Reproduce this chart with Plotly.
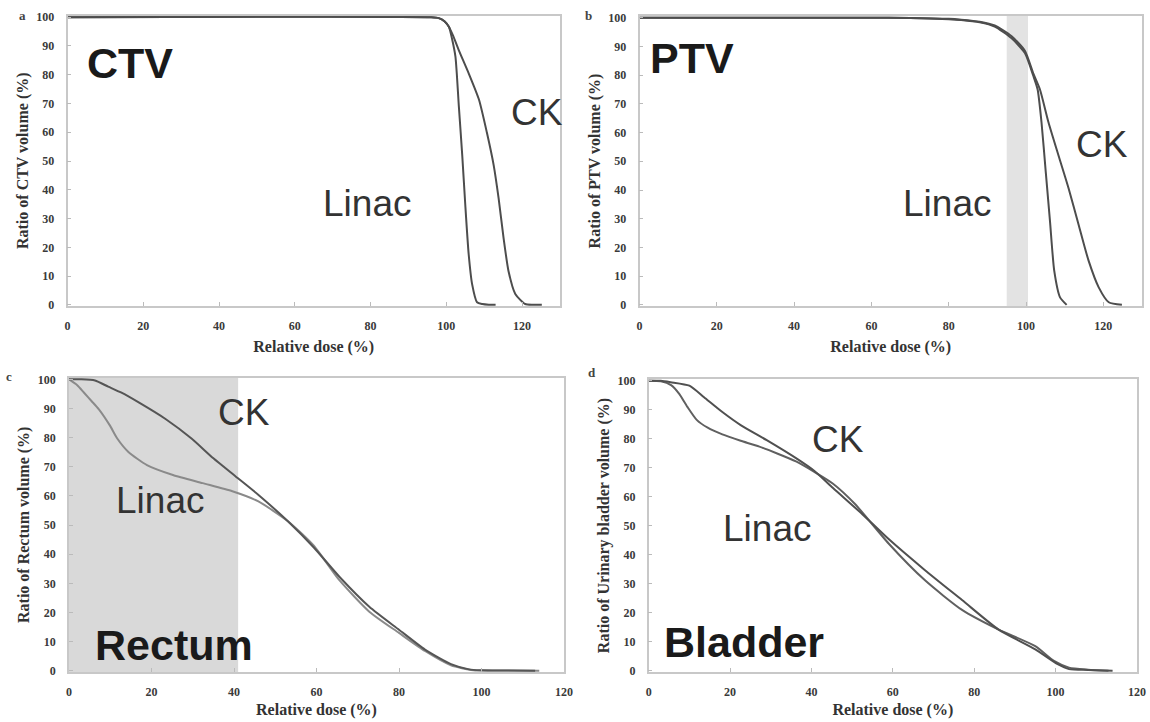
import plotly.graph_objects as go

# ---------------- data ----------------
ctv_linac_dose = [0, 96, 98, 99.5, 100.7, 101.5, 102.4, 103.3, 104.2, 105.0, 105.9, 106.8, 108.1, 109.5, 111.2, 113]
ctv_linac_vol = [100, 100, 99.7, 98.6, 96.6, 92.5, 86.3, 69.0, 51.9, 34.7, 17.5, 7.2, 0.9, 0.3, 0.05, 0]
ctv_ck_dose = [0, 96, 98, 99.5, 100.7, 101.8, 103.3, 105.9, 108.6, 110.7, 112.5, 113.8, 115.1, 116.4, 118.2, 120.8, 123, 125.2]
ctv_ck_vol = [100, 100, 99.7, 98.6, 96.6, 93.5, 88.5, 80.5, 71.4, 59.9, 48.5, 37.0, 23.3, 11.8, 3.8, 0.3, 0.05, 0]

ptv_linac_dose = [0, 60, 70, 80, 83.2, 88, 91.9, 96.2, 99.7, 101.9, 103.0, 104.0, 105.1, 106.2, 107.3, 108.8, 110.5]
ptv_linac_vol = [100, 100, 99.9, 99.5, 99.2, 98.4, 96.9, 92.9, 87.7, 79.7, 75.0, 63.6, 46.3, 29.1, 11.8, 2.6, 0]
ptv_ck_dose = [0, 60, 70, 80, 83.2, 88, 91.9, 96.2, 99.7, 101.9, 103.6, 105.8, 108.4, 111.0, 113.6, 116.2, 118.8, 121.4, 124.8]
ptv_ck_vol = [100, 100, 99.9, 99.6, 99.3, 98.6, 97.3, 93.6, 88.5, 80.5, 75.0, 63.6, 52.0, 40.6, 27.9, 15.3, 6.1, 0.9, 0]

rect_ck_dose = [0, 3, 6.3, 9.5, 12.6, 17, 23.4, 29.7, 35, 40.4, 45.8, 53, 59.3, 65.6, 72.8, 80, 86.3, 92.6, 97, 100, 105, 113]
rect_ck_vol = [100, 100, 99.6, 97.5, 95.5, 92, 86.4, 79.7, 72.9, 66.7, 60.5, 51.4, 42.4, 32.2, 22, 14.1, 7.3, 2.3, 0.5, 0.2, 0.1, 0]
rect_linac_dose = [0, 2, 3.6, 5.5, 7.2, 9.9, 11.7, 14.4, 18.9, 25.2, 32.4, 39.6, 45.8, 53, 59.3, 65.6, 72.8, 80, 86.3, 92.6, 98, 105, 114]
rect_linac_vol = [100, 98, 95.5, 92.5, 89.8, 84.2, 79.7, 75.1, 70.6, 67.2, 64.4, 61.6, 58.2, 51.4, 43, 31, 20.3, 13, 6.8, 1.9, 0.2, 0.1, 0]

blad_ck_dose = [0, 3, 5.4, 10, 13.6, 18.1, 22.6, 29, 36.2, 40.8, 45.3, 52.5, 58.9, 67.9, 77, 86, 95, 100.5, 103.3, 108, 114]
blad_ck_vol = [100, 100, 99.5, 98.3, 94.3, 89.2, 84.7, 79.5, 73.3, 68.8, 63, 54, 45.5, 34.7, 24.4, 14.2, 7.4, 2.3, 0.6, 0.3, 0]
blad_linac_dose = [0, 3, 5.5, 7.5, 9.5, 11.8, 14.5, 18.1, 22.6, 27.2, 36.2, 40.8, 45.3, 50.7, 58.9, 67.9, 77, 86, 95, 99.6, 103.3, 108, 113]
blad_linac_vol = [100, 99.8, 98.5, 95.5, 91, 86.5, 83.8, 81.5, 79.3, 77.3, 72.2, 68.5, 64.5, 57.5, 44, 31.2, 21, 14.2, 8.5, 3.4, 1.1, 0.4, 0]

x_ticks = [0, 20, 40, 60, 80, 100, 120]
y_ticks = [0, 10, 20, 30, 40, 50, 60, 70, 80, 90, 100]

ptv_band = (95, 100.5)
rectum_band = (0, 41)

x_title = "Relative dose (%)"
y_titles = ["Ratio of CTV volume (%)", "Ratio of PTV volume (%)",
            "Ratio of Rectum volume (%)", "Ratio of Urinary bladder volume (%)"]
organ_labels = ["CTV", "PTV", "Rectum", "Bladder"]
panel_letters = ["a", "b", "c", "d"]

# ---------------- figure ----------------
W, H = 1150, 722
fig = go.Figure()

def px_x(p):
    return p / W

def px_y(p):
    return 1 - p / H

series = [
    (ctv_linac_dose, ctv_linac_vol, ctv_ck_dose, ctv_ck_vol, "#4d4d4d", "#4d4d4d"),
    (ptv_linac_dose, ptv_linac_vol, ptv_ck_dose, ptv_ck_vol, "#4d4d4d", "#4d4d4d"),
    (rect_linac_dose, rect_linac_vol, rect_ck_dose, rect_ck_vol, "#8a8a8a", "#555555"),
    (blad_linac_dose, blad_linac_vol, blad_ck_dose, blad_ck_vol, "#606060", "#505050"),
]

for i, (ld, lv, cd, cv, lc, cc) in enumerate(series):
    xa = "x" if i == 0 else f"x{i+1}"
    ya = "y" if i == 0 else f"y{i+1}"
    fig.add_trace(go.Scatter(x=ld, y=lv, mode="lines", name="Linac", xaxis=xa, yaxis=ya,
                             line=dict(color=lc, width=2, shape="spline", smoothing=0.6),
                             showlegend=False))
    fig.add_trace(go.Scatter(x=cd, y=cv, mode="lines", name="CK", xaxis=xa, yaxis=ya,
                             line=dict(color=cc, width=2, shape="spline", smoothing=0.6),
                             showlegend=False))

# panel pixel boxes: (left, right, top, bottom), x max, x-title standoff
boxes = [
    (67.5, 560, 15.5, 306, 130, 9),
    (639.5, 1142, 16, 306, 130, 9),
    (69, 564, 377.6, 672, 120, 6),
    (648.7, 1137, 379, 672, 120, 6),
]

tick_font = dict(family="Liberation Serif", size=12, color="#3a3a3a", weight="bold")
title_font = dict(family="Liberation Serif", size=16, color="#333", weight="bold")

layout = dict(
    width=W, height=H,
    margin=dict(l=0, r=0, t=0, b=0, autoexpand=False),
    paper_bgcolor="white", plot_bgcolor="white",
    font=dict(family="Liberation Serif"),
)

for i, (l, r, t, b, xmax, xs) in enumerate(boxes):
    xk = "xaxis" if i == 0 else f"xaxis{i+1}"
    yk = "yaxis" if i == 0 else f"yaxis{i+1}"
    anchor_x = "y" if i == 0 else f"y{i+1}"
    anchor_y = "x" if i == 0 else f"x{i+1}"
    layout[xk] = dict(
        domain=[px_x(l), px_x(r)], range=[0, xmax], anchor=anchor_x, automargin=False,
        tickvals=x_ticks, ticks="inside", ticklen=4, tickcolor="#bbbbbb",
        showline=True, mirror=True, linecolor="#c8c8c8", linewidth=1.5,
        showgrid=False, zeroline=False, tickfont=tick_font, ticklabelstandoff=8,
        title=dict(text=x_title, font=title_font, standoff=xs),
    )
    layout[yk] = dict(
        domain=[px_y(b), px_y(t)], range=[-0.4, 100.6], anchor=anchor_y, automargin=False,
        tickvals=y_ticks, ticks="inside", ticklen=4, tickcolor="#bbbbbb",
        showline=True, mirror=True, linecolor="#c8c8c8", linewidth=1.5,
        showgrid=False, zeroline=False, tickfont=tick_font, ticklabelstandoff=9,
        title=dict(text=y_titles[i], font=title_font, standoff=4),
    )

fig.update_layout(**layout)

# shaded bands
fig.add_shape(type="rect", xref="x2", yref="y2 domain", x0=ptv_band[0], x1=ptv_band[1],
              y0=0, y1=1, fillcolor="#e3e3e3", line=dict(width=0), layer="below")
fig.add_shape(type="rect", xref="x3", yref="y3 domain", x0=rectum_band[0], x1=rectum_band[1],
              y0=0, y1=1, fillcolor="#d9d9d9", line=dict(width=0), layer="below")

# text labels (pixel positions)
big_pos = [(130, 63), (692, 58), (174, 645), (744, 642)]
linac_pos = [(367, 204), (947, 204), (160, 500), (767, 528)]
ck_pos = [(537, 113), (1102, 145), (244, 412), (838, 440)]
letter_pos = [(22, 15), (588, 15), (9, 376), (592, 373)]

common = dict(xref="paper", yref="paper", showarrow=False, xanchor="center", yanchor="middle")
for i in range(4):
    fig.add_annotation(x=px_x(big_pos[i][0]), y=px_y(big_pos[i][1]), text=organ_labels[i],
                       font=dict(family="Liberation Sans", size=43, color="#1a1a1a", weight="bold"), **common)
    fig.add_annotation(x=px_x(linac_pos[i][0]), y=px_y(linac_pos[i][1]), text="Linac",
                       font=dict(family="Liberation Sans", size=37, color="#333"), **common)
    fig.add_annotation(x=px_x(ck_pos[i][0]), y=px_y(ck_pos[i][1]), text="CK",
                       font=dict(family="Liberation Sans", size=37, color="#333"), **common)
    fig.add_annotation(x=px_x(letter_pos[i][0]), y=px_y(letter_pos[i][1]), text=panel_letters[i],
                       font=dict(family="Liberation Serif", size=13, color="#444", weight="bold"), **common)

fig.write_html("out.html", config={"displayModeBar": False},
               post_script="document.body.style.margin='0';document.body.style.overflow='hidden';")
